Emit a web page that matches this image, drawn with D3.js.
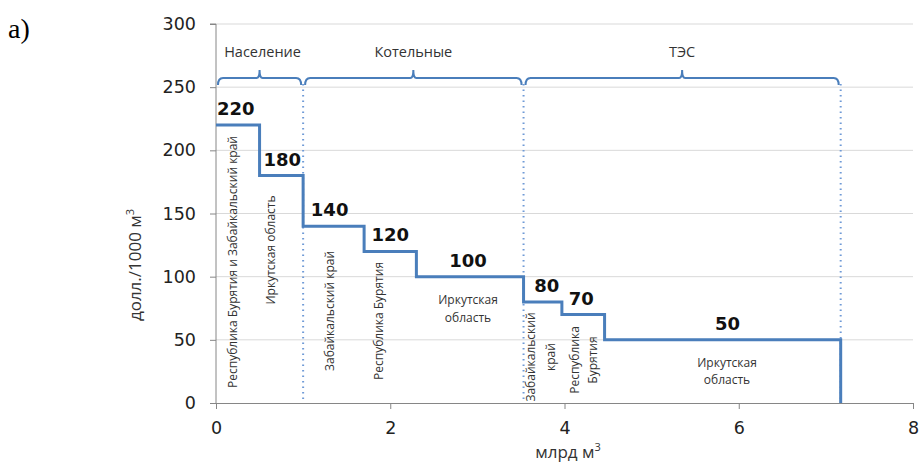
<!DOCTYPE html>
<html><head><meta charset="utf-8">
<script src="https://cdn.jsdelivr.net/npm/d3@7"></script>
<style>body{margin:0;background:#fff}svg{display:block}</style>
</head><body>
<script>
// ---- data ----
const xBreaks = [0, 0.5, 1.0, 1.7, 2.3, 3.53, 3.97, 4.46, 7.17];   // млрд м3 (cumulative)
const prices  = [220, 180, 140, 120, 100, 80, 70, 50];               // долл./1000 м3
const regionNames = [
  ["Республика Бурятия и Забайкальский край"],
  ["Иркутская область"],
  ["Забайкальский край"],
  ["Республика Бурятия"],
  ["Иркутская", "область"],
  ["Забайкальский", "край"],
  ["Республика", "Бурятия"],
  ["Иркутская", "область"]
];
const groupNames = ["Население", "Котельные", "ТЭС"];
const groupBounds = [[0, 1.0], [1.0, 3.53], [3.53, 7.17]];
const xTicks = [0, 2, 4, 6, 8];
const yTicks = [0, 50, 100, 150, 200, 250, 300];

// ---- layout ----
const W = 919, H = 465;
const svg = d3.select("body").append("svg").attr("width", W).attr("height", H);
const x = d3.scaleLinear().domain([0, 8]).range([216, 913]);
const y = d3.scaleLinear().domain([0, 300]).range([403, 24]);
const blue = "#4a7ebb";
const font = "'Open Sans', sans-serif";

// gridlines
svg.append("g").selectAll("line").data(yTicks.filter(d => d > 0)).join("line")
  .attr("x1", x(0)).attr("x2", x(8)).attr("y1", d => y(d)).attr("y2", d => y(d))
  .attr("stroke", "#d9d9d9").attr("stroke-width", 1);

// axes
const yAxis = svg.append("g").attr("transform", `translate(${x(0)},0)`)
  .call(d3.axisLeft(y).tickValues(yTicks).tickSize(6).tickPadding(14));
const xAxis = svg.append("g").attr("transform", `translate(0,${y(0)})`)
  .call(d3.axisBottom(x).tickValues(xTicks).tickSize(6).tickPadding(13));
[yAxis, xAxis].forEach(a => {
  a.select(".domain").attr("stroke", "#868686");
  a.selectAll(".tick line").attr("stroke", "#868686");
  a.selectAll(".tick text").attr("font-family", "'DejaVu Sans', sans-serif").attr("font-size", 17.5).attr("fill", "#222");
});
yAxis.select(".domain").attr("d", `M-6,${y(300)}H0V${y(0)}`);

// dotted group separators
const sepX = [groupBounds[0][1], groupBounds[1][1], groupBounds[2][1]];
svg.append("g").selectAll("line").data(sepX).join("line")
  .attr("x1", d => x(d)).attr("x2", d => x(d)).attr("y1", 84).attr("y2", y(0))
  .attr("stroke", "#6f9ad6").attr("stroke-width", 2).attr("stroke-dasharray", "1.5,4");

// step line
const pts = xBreaks.slice(0, -1).map((d, i) => [d, prices[i]]);
pts.push([xBreaks[xBreaks.length - 1], prices[prices.length - 1]]);
pts.push([xBreaks[xBreaks.length - 1], 0]);
svg.append("path")
  .attr("d", d3.line().x(d => x(d[0])).y(d => y(d[1])).curve(d3.curveStepAfter)(pts))
  .attr("fill", "none").attr("stroke", blue).attr("stroke-width", 3);

// value labels
svg.append("g").selectAll("text").data(prices).join("text")
  .attr("x", (d, i) => (x(xBreaks[i]) + x(xBreaks[i + 1])) / 2 + [-2, 1, -4, 0, -2, 4, -2, 5][i])
  .attr("y", d => y(d) - 10)
  .attr("text-anchor", "middle")
  .attr("font-family", "'DejaVu Sans', sans-serif").attr("font-weight", "bold").attr("font-size", 18)
  .attr("fill", "#111").text(d => d);

// braces
const bY = 78;
groupBounds.forEach((b, i) => {
  const x0 = x(b[0]) + 2, x1 = x(b[1]) - 2, m = (x0 + x1) / 2;
  svg.append("path")
    .attr("d", `M${x0},${bY + 7} Q${x0},${bY} ${x0 + 5},${bY} H${m - 3} Q${m},${bY} ${m},${bY - 8} Q${m},${bY} ${m + 3},${bY} H${x1 - 5} Q${x1},${bY} ${x1},${bY + 7}`)
    .attr("fill", "none").attr("stroke", blue).attr("stroke-width", 2);
  svg.append("text").attr("x", m + (i === 0 ? 3 : 0)).attr("y", 57).attr("text-anchor", "middle")
    .attr("font-family", font).attr("font-size", 14.5).attr("fill", "#333").text(groupNames[i]);
});

// region labels (layout per region: [cx, cy, rotated, line spacing])
const regionLayout = [
  [233, 262, true, 0], [271, 250, true, 0], [330, 311, true, 0], [379, 321, true, 0],
  [468, 309, false, 18], [541, 357, true, 20], [584, 360, true, 18], [727, 371, false, 17]
];
regionNames.forEach((lines, i) => {
  const [cx, cy, rot, sp] = regionLayout[i];
  const g = svg.append("g").attr("transform", `translate(${cx},${cy})` + (rot ? " rotate(-90)" : ""));
  lines.forEach((t, j) => {
    const off = (j - (lines.length - 1) / 2) * sp;
    g.append("text")
      .attr("x", 0).attr("y", off).attr("dy", "0.35em")
      .attr("text-anchor", "middle")
      .attr("font-family", font).attr("font-size", 12).attr("fill", "#333").text(t);
  });
});

// axis titles
const yt = svg.append("text").attr("transform", "translate(141,265) rotate(-90)")
  .attr("text-anchor", "middle").attr("font-family", font).attr("font-size", 17).attr("fill", "#333");
yt.append("tspan").text("долл./1000 м");
yt.append("tspan").attr("dy", -7).attr("font-size", 11).text("3");
const xt = svg.append("text").attr("x", 568).attr("y", 458)
  .attr("text-anchor", "middle").attr("font-family", font).attr("font-size", 17).attr("fill", "#333");
xt.append("tspan").text("млрд м");
xt.append("tspan").attr("dy", -7).attr("font-size", 11).text("3");

// panel label
svg.append("text").attr("x", 8).attr("y", 38).attr("font-family", "'Liberation Serif', serif")
  .attr("font-size", 28).attr("fill", "#000").text("а)");
</script>
</body></html>
